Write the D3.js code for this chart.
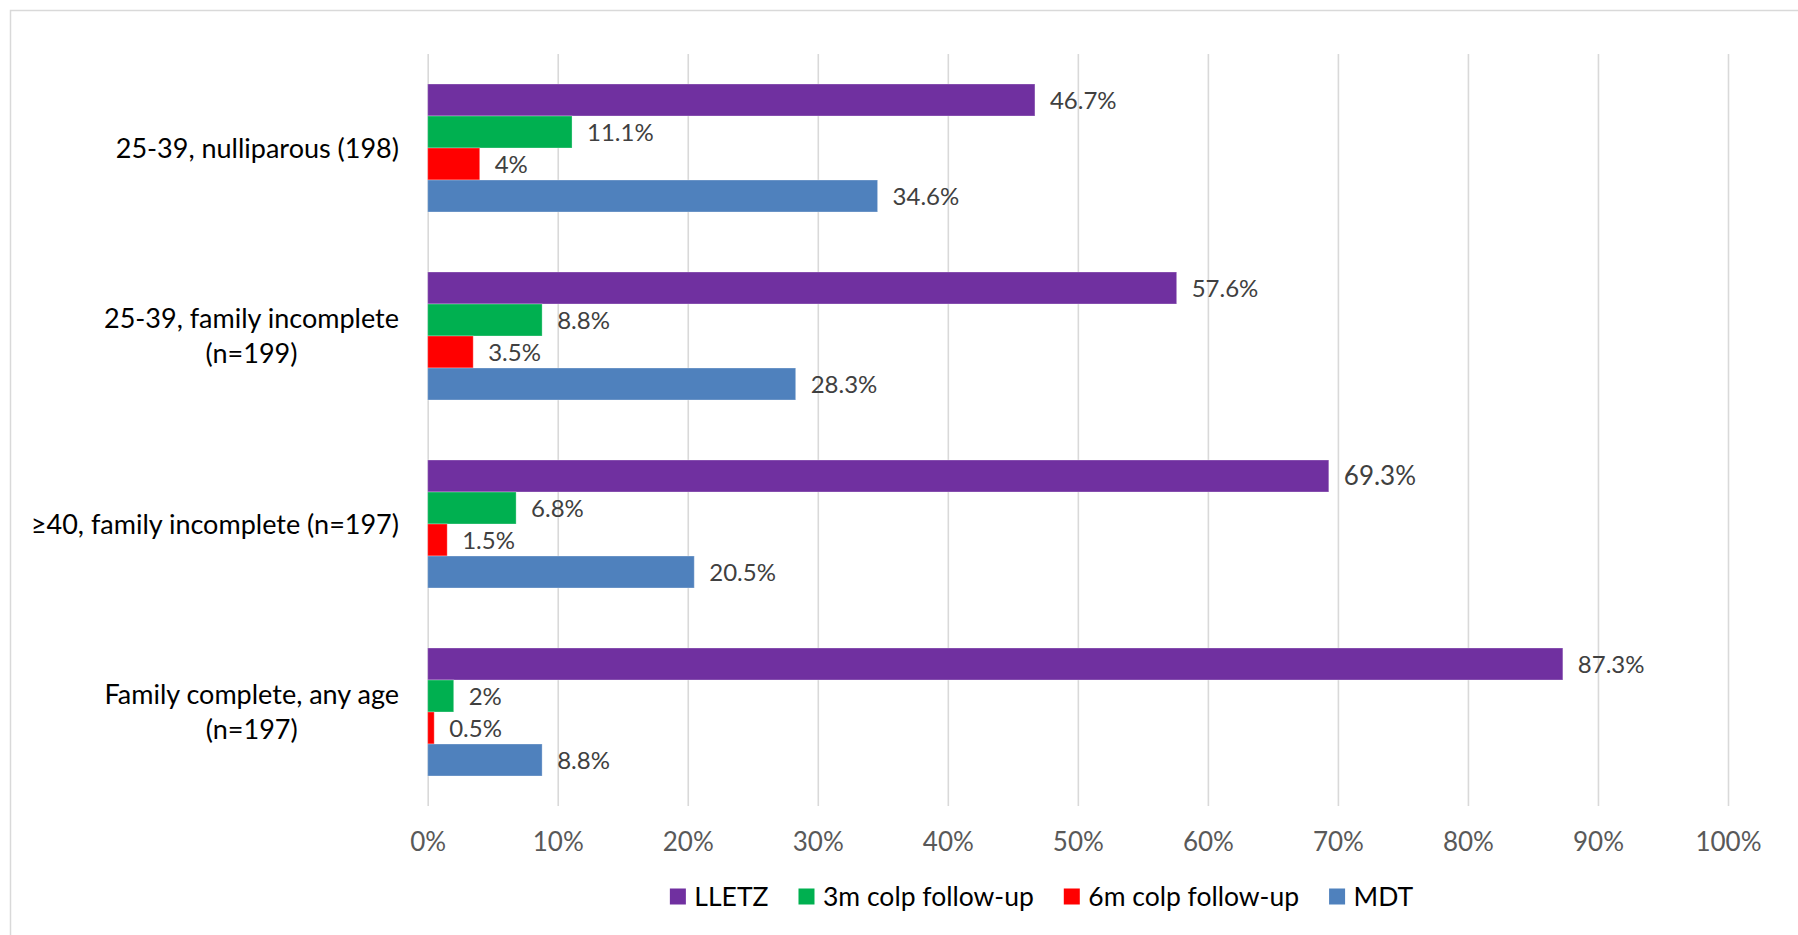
<!DOCTYPE html>
<html>
<head>
<meta charset="utf-8">
<script src="https://cdn.jsdelivr.net/npm/d3@7"></script>
<style>
  html, body { margin: 0; padding: 0; background: #fff; }
  svg { display: block; }
  text { font-family: Lato, "Open Sans", "DejaVu Sans", sans-serif; }
</style>
</head>
<body>
<svg id="chart" width="1798" height="935"></svg>
<script>
// Management outcome by patient group (percent of each group)
const categories = [
  "25-39, nulliparous (198)",
  "25-39, family incomplete\n(n=199)",
  "≥40, family incomplete (n=197)",
  "Family complete, any age\n(n=197)"
];
const seriesNames = ["LLETZ", "3m colp follow-up", "6m colp follow-up", "MDT"];
const lletz  = [46.7, 57.6, 69.3, 87.3];
const colp3m = [11.1, 8.8, 6.8, 2];
const colp6m = [4, 3.5, 1.5, 0.5];
const mdt    = [34.6, 28.3, 20.5, 8.8];
const xTicks = [0, 10, 20, 30, 40, 50, 60, 70, 80, 90, 100];

const seriesValues = [lletz, colp3m, colp6m, mdt];
const palette = ["#7030A0", "#00B050", "#FF0000", "#4F81BD"];

const svg = d3.select("#chart");

// outer chart frame (runs past the right and bottom edges)
svg.append("rect")
  .attr("x", 10.5).attr("y", 10.5)
  .attr("width", 2200).attr("height", 1200)
  .attr("fill", "none")
  .attr("stroke", "#d9d9d9")
  .attr("stroke-width", 1.5);

const plot = { left: 427.7, right: 1728, top: 54, bottom: 806 };

const x = d3.scaleLinear().domain([0, 100]).range([plot.left, plot.right]);

const y = d3.scaleBand()
  .domain(d3.range(categories.length))
  .range([plot.top, plot.bottom])
  .paddingInner(60 / 188)
  .paddingOuter(30 / 188);

const ySeries = d3.scaleBand()
  .domain(d3.range(seriesNames.length))
  .range([0, y.bandwidth()]);

// gridlines + tick labels
const xAxis = d3.axisBottom(x)
  .tickValues(xTicks)
  .tickFormat(d => d + "%")
  .tickSizeInner(-(plot.bottom - plot.top))
  .tickSizeOuter(0);

const axisG = svg.append("g")
  .attr("transform", `translate(0,${plot.bottom})`)
  .call(xAxis);
axisG.select(".domain").remove();
axisG.selectAll(".tick line")
  .attr("stroke", "#d9d9d9")
  .attr("stroke-width", 1.6);
axisG.selectAll(".tick text")
  .attr("y", 35.7)
  .attr("dy", "0.36em")
  .attr("fill", "#595959")
  .style("font-size", "26px");

// bars
const groups = svg.append("g").selectAll("g")
  .data(categories)
  .join("g")
  .attr("transform", (d, i) => `translate(0,${y(i)})`);

groups.each(function (cat, ci) {
  const g = d3.select(this);
  const rows = seriesValues.map((vals, si) => ({ si, v: vals[ci] }));

  g.selectAll("rect")
    .data(rows)
    .join("rect")
    .attr("x", x(0))
    .attr("y", d => ySeries(d.si))
    .attr("width", d => x(d.v) - x(0))
    .attr("height", ySeries.bandwidth())
    .attr("fill", d => palette[d.si])
    .attr("stroke", "#ffffff")
    .attr("stroke-opacity", 0.3)
    .attr("stroke-width", 1);

  g.selectAll("text.val")
    .data(rows)
    .join("text")
    .attr("class", "val")
    .attr("x", d => x(d.v) + 15)
    .attr("y", d => ySeries(d.si) + ySeries.bandwidth() / 2)
    .attr("dy", "0.36em")
    .attr("fill", "#404040")
    .style("font-size", d => (ci === 2 && d.si === 0) ? "26px" : "24px")
    .text(d => d.v + "%");
});

// category labels (wrapped lines are centred on their widest line)
const labelRight = 399;
const lineHeight = 35;
categories.forEach((cat, ci) => {
  const lines = cat.split("\n");
  const cy = y(ci) + y.bandwidth() / 2;
  const t = svg.append("text")
    .attr("fill", "#000")
    .style("font-size", "27px");
  lines.forEach((ln, li) => {
    t.append("tspan")
      .attr("y", cy + (li - (lines.length - 1) / 2) * lineHeight)
      .attr("dy", "0.36em")
      .text(ln);
  });
  if (lines.length === 1) {
    t.attr("text-anchor", "end").selectAll("tspan").attr("x", labelRight);
  } else {
    const spans = t.selectAll("tspan");
    const maxW = d3.max(spans.nodes(), n => n.getComputedTextLength());
    t.attr("text-anchor", "middle");
    spans.attr("x", labelRight - maxW / 2);
  }
});

// legend
const legendCenterX = 1041.5;
const legendY = 896.5;
const sw = 16, swGap = 8.5, itemGap = 30;
const legend = svg.append("g");
const items = legend.selectAll("g")
  .data(seriesNames)
  .join("g");
items.append("rect")
  .attr("width", sw).attr("height", sw)
  .attr("y", legendY - sw / 2)
  .attr("fill", (d, i) => palette[i]);
items.append("text")
  .attr("x", sw + swGap)
  .attr("y", legendY)
  .attr("dy", "0.36em")
  .attr("fill", "#000")
  .style("font-size", "26.5px")
  .text(d => d);
const widths = items.nodes().map(n =>
  sw + swGap + d3.select(n).select("text").node().getComputedTextLength());
const total = d3.sum(widths) + itemGap * (widths.length - 1);
let cursor = legendCenterX - total / 2;
items.each(function (d, i) {
  d3.select(this).attr("transform", `translate(${cursor},0)`);
  cursor += widths[i] + itemGap;
});
</script>
</body>
</html>
